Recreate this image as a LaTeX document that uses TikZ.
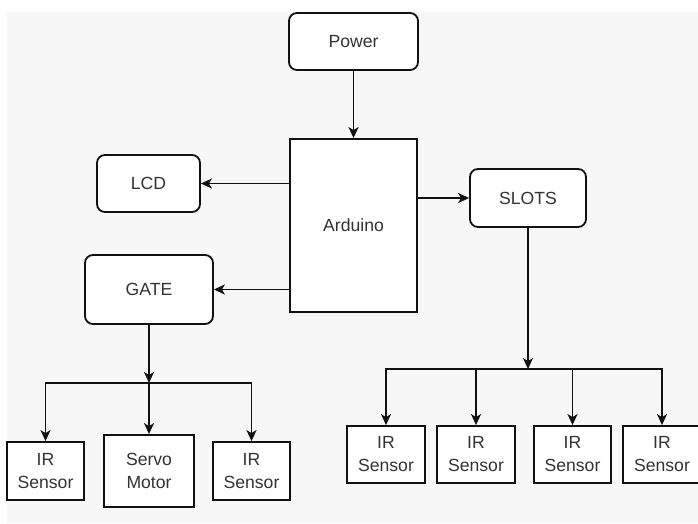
\documentclass[tikz,border=0pt]{standalone}
\usepackage{fontspec}
\setmainfont{Liberation Sans}
\usetikzlibrary{arrows.meta}
\definecolor{bggray}{HTML}{F7F7F7}
\definecolor{txtgray}{HTML}{333333}
\definecolor{linecol}{HTML}{111111}
\begin{document}
\begin{tikzpicture}[x=1pt,y=-1pt,
  box/.style={draw=linecol,line width=1.8pt,fill=white,inner sep=0pt,
    text=txtgray,font=\fontsize{17.6}{23}\selectfont,align=center},
  rbox/.style={box,rounded corners=8pt},
  arr/.style={draw=linecol,line width=1.8pt,-{Stealth[length=11pt,width=10pt,inset=3pt]}}]
\useasboundingbox (0,0) rectangle (698,523);
\fill[white] (0,0) rectangle (698,523);
\fill[bggray] (7,12) rectangle (698,523);
% nodes
\node[rbox,minimum width=129pt,minimum height=57pt] (power) at (353.5,41.5) {Power};
\node[box,minimum width=127pt,minimum height=173pt] (ard) at (353.5,225.5) {Arduino};
\node[rbox,minimum width=103pt,minimum height=57pt] (lcd) at (148.5,183.5) {LCD};
\node[rbox,minimum width=128pt,minimum height=69pt] (gate) at (149,289.5) {GATE};
\node[rbox,minimum width=116pt,minimum height=58pt] (slots) at (528,198) {SLOTS};
\node[box,minimum width=77pt,minimum height=58pt] (ir1) at (45.5,471) {IR\\Sensor};
\node[box,minimum width=90pt,minimum height=72pt] (servo) at (149,471) {Servo\\Motor};
\node[box,minimum width=77pt,minimum height=58pt] (ir2) at (251.5,471) {IR\\Sensor};
\node[box,minimum width=78pt,minimum height=57pt] (r1) at (386,454.5) {IR\\Sensor};
\node[box,minimum width=78pt,minimum height=57pt] (r2) at (476,454.5) {IR\\Sensor};
\node[box,minimum width=77pt,minimum height=57pt] (r3) at (572.5,454.5) {IR\\Sensor};
\node[box,minimum width=78pt,minimum height=57pt] (r4) at (662,454.5) {IR\\Sensor};
\coordinate (gj) at (149,383);
\coordinate (sj) at (528,369);
% connectors
\draw[arr] (power) -- (ard);
\draw[arr] (ard.west |- lcd) -- (lcd.east);
\draw[arr] (ard.west |- gate) -- (gate.east);
\draw[arr] (ard.east |- slots) -- (slots.west);
\draw[arr] (gate.south) -- (gj);
\draw[arr] (gj) -| (ir1.north);
\draw[arr] (gj) -- (servo.north);
\draw[arr] (gj) -| (ir2.north);
\draw[arr] (slots.south) -- (sj);
\draw[arr] (sj) -| (r1.north);
\draw[arr] (sj) -| (r2.north);
\draw[arr] (sj) -| (r3.north);
\draw[arr] (sj) -| (r4.north);
\end{tikzpicture}
\end{document}
